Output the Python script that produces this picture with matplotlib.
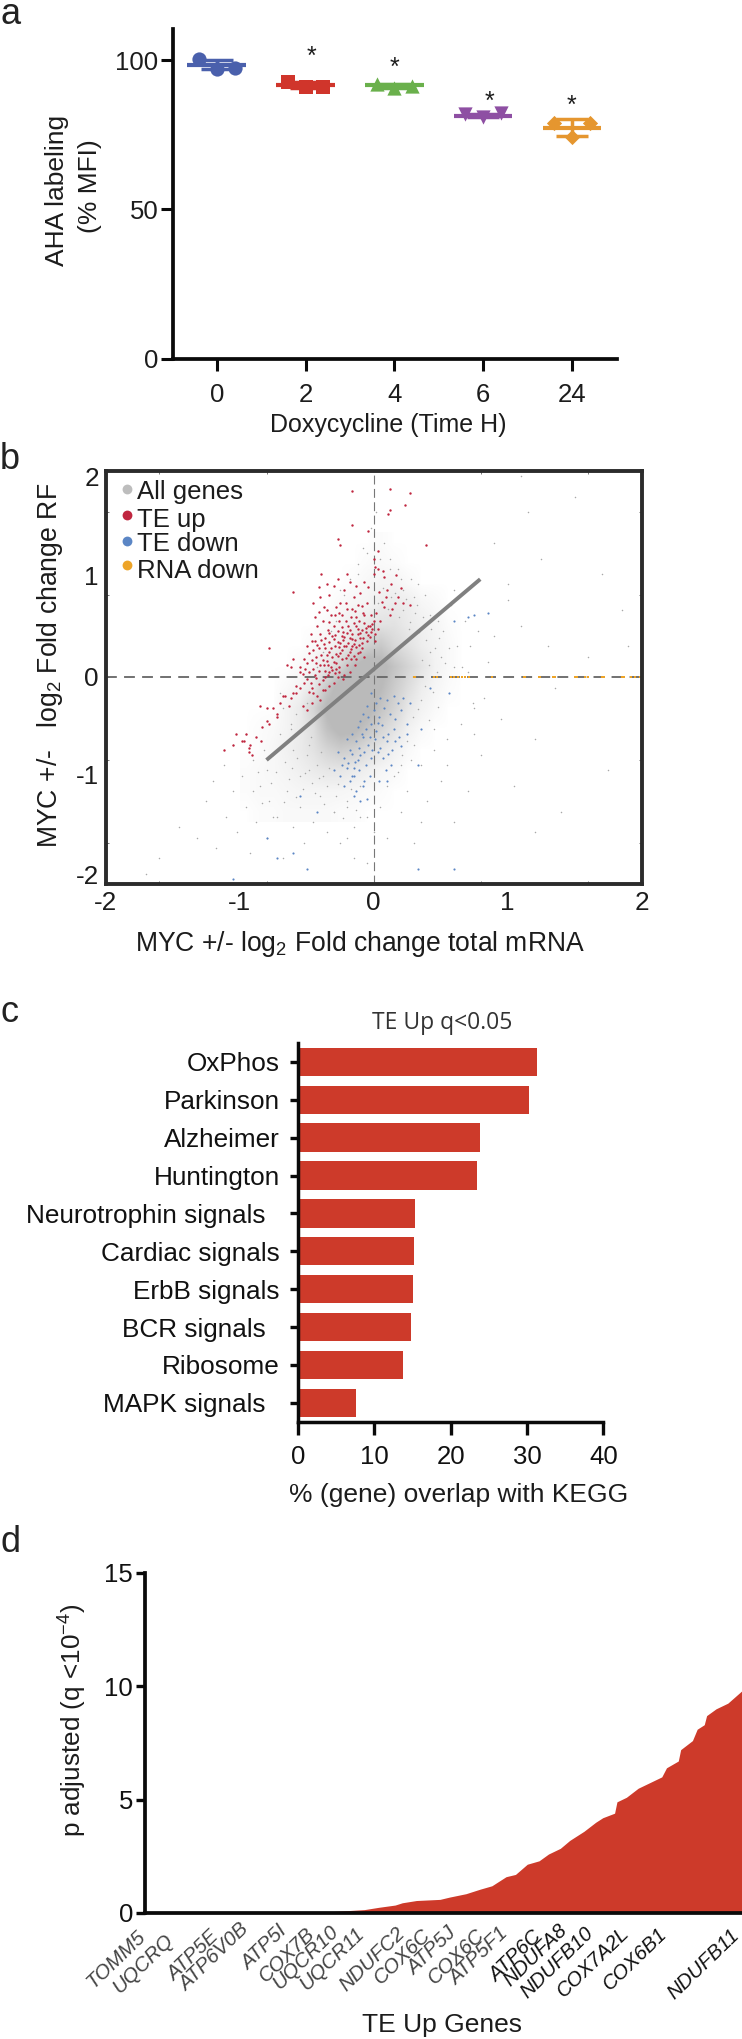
import numpy as np
import matplotlib
matplotlib.use('Agg')
import matplotlib.pyplot as plt
from matplotlib.colors import LinearSegmentedColormap, PowerNorm

plt.rcParams['font.family'] = ['Liberation Sans', 'DejaVu Sans']
plt.rcParams['mathtext.default'] = 'regular'
plt.rcParams['text.color'] = '#1c1c1c'
plt.rcParams['axes.labelcolor'] = '#1c1c1c'

W, H = 742, 2039

# ---------- panel a ----------
a_labels = ['0', '2', '4', '6', '24']
a_points = [[100.3, 97.0, 97.5], [92.5, 91.0, 91.0], [92.0, 90.6, 91.4], [82.0, 80.8, 82.2], [78.8, 74.4, 79.0]]
a_means = [98.5, 91.5, 91.5, 81.4, 77.4]
a_err_low = [97.0, 90.6, 90.8, 80.8, 74.7]
a_err_high = [100.0, 92.5, 92.0, 82.0, 80.3]
a_stars = [None, 102.0, 98.1, 86.7, 85.5]
a_star_dx = [0, 0.07, 0, 0.07, 0]
a_colors = ['#4a60ac', '#d0352b', '#6ab04c', '#8e4fa3', '#e5962f']
a_markers = ['o', 's', '^', 'v', 'D']
a_yticks = [0, 50, 100]

# ---------- panel b ----------
b_xticks = [-2, -1, 0, 1, 2]
b_yticks = [-1.905, -0.94, 0.01, 0.985, 1.94]
b_ticklabels = ['-2', '-1', '0', '1', '2']
b_small_ticks = [-1.6, -0.8, 0, 0.8, 1.6]
dens_x = [-.95, -.85, -.75, -.65, -.55, -.45, -.35, -.25, -.15, -.05, .05, .15, .25, .35, .45, .55, .65, .75]
dens_y = [1.3, 1.1, .9, .7, .5, .3, .1, -.1, -.3, -.5, -.7, -.9, -1.1, -1.3]
dens = [
    [0, 0, 0, 0, 0, 0, 0, 0, 0, 0, 0.1, 0, 0, 0, 0, 0, 0, 0],
    [0, 0, 0, 0, 0, 0, 0, 0, 0, 0.1, 0.2, 0.1, 0, 0, 0, 0, 0, 0],
    [0, 0, 0, 0, 0, 0, 0, 0, 0.1, 0.3, 0.5, 0.5, 0.2, 0, 0, 0, 0, 0],
    [0, 0, 0, 0, 0, 0, 0, 0.2, 0.4, 0.5, 1, 1.2, 1, 0.4, 0.2, 0, 0, 0],
    [0, 0, 0, 0, 0, 0, 0.2, 0.5, 1, 1.5, 2, 2, 1.2, 0.8, 0.4, 0.1, 0, 0],
    [0, 0, 0, 0, 0, 0.2, 0.5, 1, 2, 4, 5, 3, 2, 1, 0.5, 0.2, 0, 0],
    [0, 0, 0, 0, 0.2, 0.5, 1.5, 3.5, 7, 9, 8, 5.5, 3.5, 1.8, 0.6, 0.2, 0, 0],
    [0, 0, 0, 0.2, 0.5, 1.5, 5, 8.5, 9, 9, 7, 4.5, 2.5, 1, 0.4, 0.1, 0, 0],
    [0, 0, 0, 0.5, 1.2, 3.5, 7.5, 9, 9, 8, 5.5, 3.5, 1.5, 0.6, 0.2, 0, 0, 0],
    [0, 0.1, 0.2, 0.5, 1.2, 2.5, 6, 8, 7.5, 5.5, 3.5, 2, 0.7, 0.2, 0, 0, 0, 0],
    [0, 0.1, 0.3, 0.7, 1.2, 2, 3.5, 4.5, 4, 2.5, 1.5, 0.7, 0.2, 0, 0, 0, 0, 0],
    [0.1, 0.2, 0.3, 0.5, 0.8, 1.2, 1.6, 1.6, 1.2, 0.8, 0.4, 0.2, 0, 0, 0, 0, 0, 0],
    [0.1, 0.2, 0.2, 0.3, 0.4, 0.4, 0.4, 0.4, 0.3, 0.2, 0.1, 0, 0, 0, 0, 0, 0, 0],
    [0, 0.1, 0.1, 0.2, 0.2, 0.2, 0.2, 0.1, 0.1, 0, 0, 0, 0, 0, 0, 0, 0, 0],
]
grey_points = [(-1.45, -1.45), (-1.32, -1.55), (-1.25, -1.2), (-1.2, -1.0), (-1.18, -1.65), (-1.12, -0.85), (-1.1, -1.35),
    (-1.05, -1.1), (-1.02, -1.5), (-0.98, -0.95), (-0.95, -1.25), (-0.92, -1.7), (-0.9, -0.8), (-0.88, -1.4), (-0.85, -1.05),
    (-0.82, -0.7), (-0.8, -1.55), (-0.78, -1.2), (-0.75, -0.75), (-0.72, -1.35), (-0.7, -0.55), (-0.68, -1.75), (-0.65, -1.1),
    (-0.62, -0.5), (-0.6, -1.45), (-0.58, -0.35), (-0.55, -1.25), (-0.52, -1.6), (-0.5, -0.25), (-0.48, -0.9), (-0.45, -1.4),
    (-0.42, 0.1), (-0.4, -1.15), (-0.38, 0.25), (-0.35, -1.5), (-0.32, 0.45), (-0.3, -1.3), (-0.28, 0.55), (-0.25, -1.6),
    (-0.22, 0.8), (-0.2, -1.2), (-0.18, 0.95), (-0.15, -1.45), (-0.12, 1.1), (-0.1, -1.05), (-0.08, 1.25), (-0.05, -1.35),
    (-0.02, 1.45), (0.02, 1.6), (0.05, -1.25), (0.08, 1.3), (0.1, -1.55), (0.12, 1.15), (0.15, -0.95), (0.18, 1.05),
    (0.2, -1.3), (0.22, 0.85), (0.25, -1.1), (0.28, 0.95), (0.3, -1.6), (0.32, 0.7), (0.35, -0.85), (0.38, 0.8), (0.4, -1.2),
    (0.42, 0.6), (0.45, -0.7), (0.48, 0.55), (0.5, -1.0), (0.52, 0.45), (0.55, -0.6), (0.58, 0.7), (0.6, -1.4), (0.62, 0.3),
    (0.65, -0.45), (0.68, 0.55), (0.7, -1.1), (0.72, 0.3), (0.75, -0.3), (0.78, 0.45), (0.8, -0.75), (0.85, 0.15), (0.9, 1.3),
    (0.95, -0.4), (1.0, 0.75), (1.05, -1.05), (1.1, 0.5), (1.15, 1.6), (1.2, -0.6), (1.25, 1.15), (1.3, 0.3), (1.4, -1.3),
    (1.5, 1.75), (1.6, 0.2), (1.7, 1.0), (1.75, -0.9), (1.85, 0.65), (1.9, 0.3), (-1.7, -1.9), (-1.6, -1.75), (-1.05, -0.65),
    (-0.95, -0.55), (-0.9, -1.1), (-0.8, -0.9), (-0.75, -1.35), (-0.68, -0.3), (-0.6, -0.7), (-0.55, -0.95), (-0.5, -0.75),
    (-0.42, -0.85), (-0.35, -1.05), (-0.28, -1.15), (-0.2, -1.25), (-0.1, -1.35), (0.0, -1.5), (0.1, -1.05), (0.2, -0.85),
    (0.3, -0.65), (0.35, -1.4), (0.45, -0.5), (0.55, -0.85), (0.6, 0.85), (0.7, 0.05), (0.75, -0.55), (0.82, -0.2), (0.9, 0.4),
    (1.0, 0.9), (1.1, 1.95), (1.2, -1.5), (1.35, -0.1), (-0.35, 0.65), (-0.25, 0.85), (-0.12, 1.0), (-0.05, 1.2), (0.05, 1.15),
    (0.12, 1.05), (0.22, 0.65), (0.33, 0.9), (0.42, 0.25), (0.5, 0.2), (0.66, 0.1), (0.74, -0.25), (-0.7, -0.15), (-0.62, -0.45),
    (-0.48, -0.65), (-0.38, -0.95), (-0.3, -1.3), (-0.2, -1.55), (-0.15, -1.75), (-0.05, -1.8),
    (-0.73, -0.92), (-0.66, -0.82), (-0.63, -0.98), (-0.57, -0.78), (-0.53, -1.08), (-0.47, -0.58), (-0.44, -1.12), (-0.39, -0.72),
    (-0.86, -0.92), (-0.83, -1.22), (-0.77, -1.02), (-0.71, -0.68), (-0.67, -1.21), (-0.61, -0.88), (-0.58, -1.16), (-0.51, -0.93),
    (-0.46, -1.02), (-0.41, -0.97), (-0.37, -1.23), (-0.33, -0.88), (-0.27, -1.03), (-0.23, -1.36), (-0.17, -1.08), (-0.13, -1.28),
    (0.03, 0.72), (0.07, 0.86), (0.11, 0.66), (0.16, 0.82), (0.19, 0.58), (0.24, 0.76), (0.27, 0.54), (0.31, 0.62), (0.34, 0.44),
    (0.37, 0.58), (0.39, 0.36), (0.43, 0.47), (0.46, 0.28), (0.49, 0.38), (0.53, 0.14), (0.56, 0.28), (0.6, 0.1), (0.3, 0.78),
    (0.26, 0.47), (0.2, 0.95), (0.13, 0.78), (0.36, 0.17), (0.41, 0.12), (0.47, 0.05), (0.38, -0.08), (0.44, -0.14), (0.35, -0.22),
    (0.29, -0.38), (0.33, -0.31), (0.25, -0.62), (0.21, -0.75), (0.18, -0.92), (0.28, -0.8), (0.41, -0.41), (0.48, -0.29)]
red_points = [(-0.16, 1.8), (0.12, 1.82), (0.27, 1.78), (0.23, 1.67), (0.12, 1.62), (0.11, 1.58), (-0.16, 1.47), (-0.27, 1.34),
    (-0.04, 1.42), (-0.25, 1.28), (0.39, 1.28), (0.03, 1.22), (0.0, 1.15), (0.01, 1.07), (0.0, 1.0), (0.03, 1.05), (0.07, 1.03),
    (0.08, 0.97), (0.1, 0.85), (0.13, 0.9), (0.17, 0.99), (0.2, 0.86), (0.18, 0.78), (0.22, 0.72), (0.27, 0.7), (-0.39, 1.0),
    (-0.41, 0.87), (-0.6, 0.83), (-0.45, 0.72), (-0.4, 0.78), (-0.33, 0.8), (-0.3, 0.88), (-0.27, 0.95), (-0.25, 0.72), (-0.22, 0.85),
    (-0.18, 0.92), (-0.15, 0.78), (-0.12, 0.7), (-0.1, 0.82), (-0.08, 0.62), (-0.05, 0.72), (-0.02, 0.6), (-0.35, 0.65), (-0.32, 0.6),
    (-0.28, 0.68), (-0.24, 0.6), (-0.2, 0.66), (-0.17, 0.58), (-0.14, 0.64), (-0.11, 0.55), (-0.07, 0.6), (-0.03, 0.5), (0.0, 0.55),
    (0.02, 0.62), (0.05, 0.55), (0.08, 0.68), (0.12, 0.6), (0.16, 0.72), (-0.42, 0.5), (-0.38, 0.55), (-0.34, 0.46), (-0.3, 0.5),
    (-0.26, 0.55), (-0.23, 0.44), (-0.19, 0.5), (-0.16, 0.42), (-0.13, 0.5), (-0.1, 0.38), (-0.06, 0.44), (-0.04, 0.5), (-0.01, 0.47),
    (-0.47, 0.42), (-0.44, 0.35), (-0.4, 0.42), (-0.36, 0.38), (-0.31, 0.4), (-0.27, 0.34), (-0.24, 0.4), (-0.21, 0.3), (-0.18, 0.38),
    (-0.15, 0.32), (-0.12, 0.42), (-0.09, 0.28), (-0.05, 0.35), (-0.02, 0.44), (0.01, 0.42), (-0.5, 0.3), (-0.46, 0.35), (-0.41, 0.28),
    (-0.37, 0.32), (-0.33, 0.25), (-0.29, 0.3), (-0.25, 0.24), (-0.22, 0.3), (-0.19, 0.22), (-0.16, 0.3), (-0.13, 0.18), (-0.1, 0.25),
    (-0.07, 0.2), (-0.52, 0.18), (-0.48, 0.24), (-0.43, 0.2), (-0.39, 0.22), (-0.35, 0.16), (-0.31, 0.2), (-0.28, 0.14), (-0.24, 0.18),
    (-0.2, 0.12), (-0.17, 0.18), (-0.14, 0.12), (-0.55, 0.1), (-0.5, 0.14), (-0.45, 0.08), (-0.4, 0.12), (-0.36, 0.06), (-0.32, 0.1),
    (-0.29, 0.04), (-0.26, 0.1), (-0.22, 0.02), (-0.18, 0.05), (-0.6, 0.18), (-0.55, 0.05), (-0.5, -0.02), (-0.44, 0.02), (-0.38, -0.03),
    (-0.34, 0.02), (-0.3, -0.05), (-0.27, 0.0), (-0.23, -0.02), (-0.65, 0.12), (-0.58, -0.08), (-0.52, -0.05), (-0.46, -0.1), (-0.41, -0.06),
    (-0.36, -0.12), (-0.33, -0.08), (-0.68, -0.18), (-0.6, -0.15), (-0.55, -0.1), (-0.48, -0.14), (-0.42, -0.18), (-0.38, -0.12),
    (-0.7, -0.25), (-0.62, -0.2), (-0.53, -0.28), (-0.45, -0.15), (-0.4, -0.22), (-0.78, 0.28), (-0.75, -0.3), (-0.72, -0.35),
    (-0.66, -0.18), (-0.63, -0.28), (-0.58, -0.15), (-0.5, -0.32), (-0.46, -0.25), (-0.85, -0.28), (-0.8, -0.42), (-0.78, -0.45),
    (-0.72, -0.38), (-0.88, -0.58), (-0.84, -0.62), (-0.95, -0.55), (-0.92, -0.65), (-0.97, -0.62), (-1.12, -0.7), (-1.03, -0.55),
    (-0.98, -0.62), (-0.93, -0.72), (-0.93, -0.68), (-0.91, -0.75), (-1.05, -0.65), (-0.62, 0.1), (-0.83, -0.48), (-0.8, -0.3),
    (-0.33, 0.34), (-0.29, 0.41), (-0.26, 0.29), (-0.23, 0.36), (-0.2, 0.43), (-0.17, 0.27), (-0.14, 0.36), (-0.11, 0.31), (-0.08, 0.38),
    (-0.06, 0.48), (-0.04, 0.41), (-0.07, 0.53), (-0.09, 0.46), (-0.12, 0.47), (-0.15, 0.53), (-0.18, 0.46), (-0.21, 0.55), (-0.24, 0.49),
    (-0.27, 0.45), (-0.3, 0.37), (-0.33, 0.43), (-0.36, 0.28), (-0.39, 0.36), (-0.42, 0.31), (-0.45, 0.26), (-0.43, 0.14), (-0.38, 0.17),
    (-0.34, 0.12), (-0.3, 0.15), (-0.27, 0.21), (-0.24, 0.26), (-0.21, 0.19), (-0.18, 0.25), (-0.15, 0.21), (-0.12, 0.24), (-0.09, 0.33),
    (-0.03, 0.39), (-0.01, 0.52), (0.01, 0.35), (0.03, 0.47), (-0.35, 0.22), (-0.32, 0.28), (-0.28, 0.23), (-0.25, 0.33), (-0.22, 0.39),
    (-0.19, 0.33), (-0.16, 0.37), (-0.13, 0.29), (-0.1, 0.43), (-0.46, 0.17), (-0.41, 0.06), (-0.37, 0.12), (-0.33, 0.05), (-0.28, 0.08),
    (-0.48, 0.05), (-0.53, 0.03), (-0.43, -0.01), (-0.47, -0.05), (-0.51, 0.08), (-0.36, 0.0), (-0.31, 0.07), (-0.26, 0.05), (-0.44, 0.58),
    (-0.37, 0.68), (-0.29, 0.6), (-0.21, 0.72), (-0.16, 0.66), (-0.09, 0.69), (-0.13, 0.58), (-0.26, 0.62), (-0.33, 0.54), (-0.41, 0.63),
    (0.06, 0.73), (0.09, 0.78), (0.14, 0.66), (0.04, 0.83), (-0.04, 0.87), (-0.07, 0.92), (-0.2, 1.0), (-0.13, 0.88), (-0.35, 0.9)]
blue_points = [(-0.02, -0.15), (0.05, -0.2), (0.1, -0.22), (0.15, -0.18), (0.18, -0.25), (0.22, -0.2), (0.27, -0.25), (-0.08, -0.35),
    (-0.05, -0.28), (0.0, -0.32), (0.04, -0.38), (0.08, -0.3), (0.12, -0.35), (0.16, -0.4), (0.2, -0.32), (0.25, -0.45), (-0.12, -0.48),
    (-0.1, -0.42), (-0.06, -0.5), (-0.02, -0.45), (0.02, -0.52), (0.06, -0.46), (0.11, -0.55), (0.15, -0.5), (0.19, -0.58), (0.25, -0.55),
    (0.35, -0.5), (-0.2, -0.6), (-0.16, -0.55), (-0.13, -0.62), (-0.08, -0.58), (-0.04, -0.65), (0.01, -0.6), (0.05, -0.68), (0.1, -0.62),
    (0.14, -0.7), (0.2, -0.66), (-0.27, -0.72), (-0.22, -0.78), (-0.18, -0.7), (-0.14, -0.82), (-0.1, -0.75), (-0.06, -0.85), (-0.02, -0.78),
    (0.03, -0.72), (0.09, -0.9), (0.13, -0.85), (-0.3, -0.9), (-0.25, -0.95), (-0.2, -0.88), (-0.16, -0.95), (-0.11, -0.9), (-0.07, -1.0),
    (-0.03, -0.95), (0.04, -1.0), (-0.22, -1.05), (-0.18, -1.0), (-0.13, -1.1), (-0.08, -1.05), (-0.15, -1.15), (-0.1, -1.2), (-0.05, -1.18),
    (0.42, -0.1), (0.56, -0.15), (0.6, 0.55), (0.7, 0.58), (0.75, 0.6), (0.85, 0.62), (-0.55, -1.15), (-0.42, -1.3), (-0.8, -1.55),
    (-0.6, -1.7), (-0.72, -1.75), (-0.5, -1.85), (0.33, -1.85), (0.6, -1.85), (0.33, -0.85), (0.1, -1.0), (-0.15, -0.95), (-1.05, -1.95),
    (-0.09, -0.55), (-0.03, -0.58), (0.03, -0.44), (0.07, -0.58), (-0.11, -0.68), (-0.07, -0.72), (-0.01, -0.7), (-0.16, -0.74), (-0.12, -0.8),
    (-0.24, -0.85), (-0.19, -0.83), (-0.15, -0.88), (0.07, -0.78), (0.11, -0.74), (0.16, -0.62), (-0.04, -0.38), (0.02, -0.25)]
orange_x = [0.3, 0.31, 0.45, 0.47, 0.58, 0.6, 0.63, 0.66, 0.68, 0.71, 0.88, 1.12, 1.13, 1.23, 1.24, 1.34, 1.35,
            1.5, 1.52, 1.58, 1.6, 1.7, 1.72, 1.85, 1.87, 1.92, 1.95, 1.99]
orange_y = [0.0] * len(orange_x)
fit_x = [-0.80, 0.795]
fit_y = [-0.80, 0.95]
b_legend = ['All genes', 'TE up', 'TE down', 'RNA down']
b_legend_colors = ['#bdbdbd', '#c0263f', '#5b86c5', '#eda428']

# ---------- panel c ----------
c_names = ['OxPhos', 'Parkinson', 'Alzheimer', 'Huntington', 'Neurotrophin signals  ', 'Cardiac signals',
           'ErbB signals', 'BCR signals  ', 'Ribosome', 'MAPK signals  ']
c_values = [31.3, 30.25, 23.8, 23.4, 15.3, 15.15, 15.1, 14.85, 13.8, 7.65]
c_xticks = [0, 10, 20, 30, 40]

# ---------- panel d ----------
d_rank = [0, 59, 79, 93, 99, 106, 109, 115, 125, 129, 136, 142, 147, 153, 157, 162, 167, 171, 176, 180, 186,
          191, 194, 199, 200, 204, 209, 215, 219, 221, 226, 227, 232, 234, 237, 238, 242, 247, 253]
d_value = [0, 0.02, 0.06, 0.15, 0.25, 0.35, 0.45, 0.55, 0.6, 0.7, 0.85, 1.05, 1.2, 1.6, 1.7, 2.15, 2.3, 2.6,
           2.85, 3.2, 3.6, 4.0, 4.2, 4.4, 4.9, 5.1, 5.5, 5.8, 6.0, 6.4, 6.7, 7.2, 7.6, 8.1, 8.3, 8.7, 9.0, 9.25, 9.8]
d_genes = ['TOMM5', 'UQCRQ', 'ATP5E', 'ATP6V0B', 'ATP5I', 'COX7B', 'UQCR10', 'UQCR11', 'NDUFC2', 'COX6C', 'ATP5J',
           'COX6C', 'ATP5F1', 'ATP6C', 'NDUFA8', 'NDUFB10', 'COX7A2L', 'COX6B1', 'NDUFB11']
d_gene_rank = [-4, 8, 27, 40, 56, 68, 78, 89, 106, 117, 128, 140, 150, 164, 175, 186, 201, 217, 248]
d_yticks = [0, 5, 10, 15]

RED = '#cd3a2a'
BLACK = '#0a0a0a'
FS = 18.5


def make_axes(left, top, right, bottom):
    return fig.add_axes([left / W, 1 - bottom / H, (right - left) / W, (bottom - top) / H])


def pxtext(x, y, s, **kw):
    kw.setdefault('ha', 'center')
    kw.setdefault('va', 'center')
    fig.text(x / W, 1 - y / H, s, **kw)


fig = plt.figure(figsize=(W / 100, H / 100), dpi=100, facecolor='white')

# panel a
ax = make_axes(173, 29, 617, 358.7)
ax.set_xlim(-0.493, 4.507)
ax.set_ylim(0, 110.4)
for i, pts in enumerate(a_points):
    c = a_colors[i]
    ax.scatter([i - 0.2, i, i + 0.2], pts, marker=a_markers[i], s=105 if a_markers[i] != 'D' else 60, color=c, zorder=2, lw=0)
    ax.hlines(a_means[i], i - 0.33, i + 0.33, color=c, lw=3, zorder=3)
    ax.vlines(i, a_err_low[i], a_err_high[i], color=c, lw=2.5, zorder=3)
    ax.hlines([a_err_low[i], a_err_high[i]], i - 0.18, i + 0.18, color=c, lw=2.5, zorder=3)
    if a_stars[i] is not None:
        ax.text(i + a_star_dx[i], a_stars[i], '*', ha='center', va='center_baseline', fontsize=18)
ax.set_xticks(range(5), a_labels)
ax.set_yticks(a_yticks)
ax.tick_params(axis='both', length=8.5, width=2.2, labelsize=FS, color=BLACK, labelcolor='#1c1c1c')
ax.tick_params(axis='x', pad=9)
ax.tick_params(axis='y', pad=2)
for s in ('top', 'right'):
    ax.spines[s].set_visible(False)
for s in ('left', 'bottom'):
    ax.spines[s].set_linewidth(2.7)
    ax.spines[s].set_color(BLACK)
pxtext(57, 190, 'AHA labeling', rotation=90, fontsize=19)
pxtext(90, 186, '(% MFI)', rotation=90, fontsize=19)
pxtext(388, 425, 'Doxycycline (Time H)', fontsize=18)

# panel b
ax = make_axes(105.7, 470.7, 641.7, 884)
cm = LinearSegmentedColormap.from_list('g', ['#ffffff', '#bababa'])
dx = 0.05
ax.imshow(dens, extent=[dens_x[0] - dx, dens_x[-1] + dx, dens_y[-1] - 0.1, dens_y[0] + 0.1], cmap=cm,
          norm=PowerNorm(0.7, vmin=0, vmax=7), interpolation='bilinear', aspect='auto', zorder=1)
ax.set_xlim(-2, 2)
ax.set_ylim(-2, 2)
ax.scatter(*zip(*grey_points), s=1.2, color='#a8a8a8', lw=0, zorder=2)
ax.axhline(0, color='#666666', lw=1.3, dashes=(6, 4), zorder=3)
ax.axvline(0, color='#777777', lw=0.8, dashes=(8, 4), zorder=3)
ax.scatter(*zip(*blue_points), s=2.4, color=b_legend_colors[2], lw=0, zorder=4)
ax.scatter(*zip(*red_points), s=3.0, color=b_legend_colors[1], lw=0, zorder=4)
ax.scatter(orange_x, orange_y, s=4, marker='s', color=b_legend_colors[3], lw=0, zorder=4)
ax.plot(fit_x, fit_y, color='#808080', lw=2.8, zorder=5, solid_capstyle='butt')
ax.set_xticks(b_xticks, b_ticklabels)
ax.set_yticks(b_yticks, b_ticklabels)
ax.set_xticks(b_small_ticks, minor=True)
ax.set_yticks(b_small_ticks, minor=True)
ax.tick_params(which='major', length=0, labelsize=FS + 0.3, pad=5, labelcolor='#1c1c1c')
ax.tick_params(which='minor', direction='in', length=2.5, width=0.7, color='#777777',
               top=True, right=True, bottom=True, left=True)
for s in ax.spines.values():
    s.set_linewidth(2.8)
    s.set_color('#2b2b2b')
    s.set_zorder(6)
leg_y = [1.82, 1.57, 1.32, 1.09]
txt_y = [1.79, 1.52, 1.29, 1.03]
for yy, ty, name, col in zip(leg_y, txt_y, b_legend, b_legend_colors):
    ax.scatter([-1.84], [yy], s=50, color=col, lw=0, zorder=7)
    ax.text(-1.77, ty, name, fontsize=18.5, ha='left', va='center', zorder=7)
pxtext(50, 665.7, r'MYC +/-   log$_2$ Fold change RF', rotation=90, fontsize=19.2)
pxtext(360, 944, r'MYC +/- log$_2$ Fold change total mRNA', fontsize=19.1)

# panel c
ax = make_axes(298, 1043, 603.3, 1421.7)
ax.barh(range(10), c_values, height=0.75, color=RED, edgecolor='none', zorder=2)
ax.set_xlim(0, 40)
ax.set_ylim(9.5, -0.5)
ax.set_yticks(range(10), c_names)
ax.set_xticks(c_xticks)
ax.tick_params(axis='y', length=6, width=2.4, labelsize=18.8, pad=7, color=BLACK, labelcolor='#111111')
ax.tick_params(axis='x', length=9, width=2.4, labelsize=FS, pad=8, color=BLACK, labelcolor='#111111')
for s in ('top', 'right'):
    ax.spines[s].set_visible(False)
for s in ('left', 'bottom'):
    ax.spines[s].set_linewidth(2.5)
    ax.spines[s].set_color(BLACK)
    ax.spines[s].set_zorder(4)
pxtext(442.5, 1023, 'TE Up q<0.05', fontsize=16.5, family=['Open Sans', 'DejaVu Sans'], color='#333333')
pxtext(459, 1495, '% (gene) overlap with KEGG', fontsize=19)

# panel d
ax = make_axes(145, 1572.7, 742, 1913)
ax.fill_between(d_rank, 0, d_value, color=RED, lw=0, zorder=2)
ax.set_xlim(0, 253)
ax.set_ylim(0, 15)
ax.set_yticks(d_yticks)
ax.set_xticks([])
ax.tick_params(axis='y', length=6.5, width=2.4, labelsize=FS, pad=2, color=BLACK, labelcolor='#111111')
for s in ('top', 'right'):
    ax.spines[s].set_visible(False)
for s in ('left', 'bottom'):
    ax.spines[s].set_linewidth(2.7)
    ax.spines[s].set_color(BLACK)
    ax.spines[s].set_zorder(4)
gene_drop = [40, 50, 40, 20, 25, 30, 25, 30, 30, 35, 30, 35, 30, 40, 20, 30, 30, 30, 35]
for i, (g, r, dr) in enumerate(zip(d_genes, d_gene_rank, gene_drop)):
    ax.annotate(g, xy=(r, 0), xycoords=('data', 'axes fraction'), xytext=(0, -dr / 3 * 0.72 - 0.5),
                textcoords='offset points', rotation=44, rotation_mode='anchor', ha='right', va='top',
                fontsize=14.8, style='italic', color='#444444' if i < 13 else '#111111', annotation_clip=False)
pxtext(73, 1720, r'p adjusted (q <10$^{-4}$)', rotation=90, fontsize=18.8)
pxtext(442.5, 2025, 'TE Up Genes', fontsize=19)

# panel letters
for s, y in zip('abcd', (24, 469, 1022, 1552)):
    fig.text(0 / W, 1 - y / H, s, fontsize=26, ha='left', va='baseline', color='#222222')

fig.savefig('out.png', dpi=100)
